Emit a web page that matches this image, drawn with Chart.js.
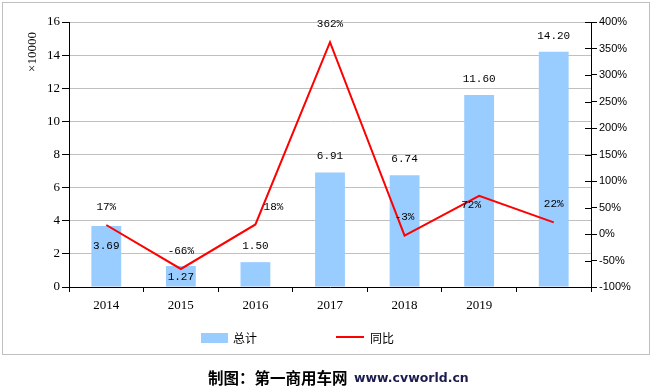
<!DOCTYPE html>
<html>
<head>
<meta charset="utf-8">
<script src="https://cdn.jsdelivr.net/npm/chart.js@4/dist/chart.umd.min.js"></script>
<style>
  html, body { margin: 0; padding: 0; background: #fff; }
  #wrap { position: relative; width: 654px; height: 388px; }
</style>
</head>
<body>
<div id="wrap"><canvas id="chart" width="654" height="388"></canvas></div>
<script>
// 数据
const years = ["2014", "2015", "2016", "2017", "2018", "2019", ""];
const totals = [3.69, 1.27, 1.50, 6.91, 6.74, 11.60, 14.20];
const yoyPct = [17, -66, 18, 362, -3, 72, 22];
const totalLabels = ["3.69", "1.27", "1.50", "6.91", "6.74", "11.60", "14.20"];
const yoyLabels = ["17%", "-66%", "18%", "362%", "-3%", "72%", "22%"];

// 标签偏移（默认在上方）
const barLabelShift = {0: [0, 20], 1: [0, 11]};
const lineLabelShift = {2: [18, -17], 5: [-8, 9]};

const monoFont = "'Liberation Mono', monospace";
const serifFont = "'Liberation Serif', serif";

const decorPlugin = {
  id: "decor",
  beforeDraw(chart) {
    const ctx = chart.ctx;
    ctx.save();
    ctx.fillStyle = "#fff";
    ctx.fillRect(0, 0, chart.width, chart.height);
    ctx.strokeStyle = "#bfbfbf";
    ctx.lineWidth = 1;
    ctx.strokeRect(2.5, 2.5, 647, 352);
    ctx.restore();
  },
  afterDraw(chart) {
    const ctx = chart.ctx;
    const area = chart.chartArea;
    ctx.save();
    // 右轴刻度（穿过轴线）
    const y1 = chart.scales.y1;
    ctx.strokeStyle = "#000";
    ctx.lineWidth = 1;
    y1.ticks.forEach((t, i) => {
      const py = Math.round(y1.getPixelForTick(i)) + 0.5;
      ctx.beginPath();
      ctx.moveTo(area.right - 6, py);
      ctx.lineTo(area.right, py);
      ctx.stroke();
    });
    // 纵轴单位
    ctx.fillStyle = "#000";
    ctx.font = "13px " + serifFont;
    ctx.textAlign = "center";
    ctx.textBaseline = "middle";
    ctx.translate(33, 52);
    ctx.rotate(-Math.PI / 2);
    ctx.fillText("×10000", 0, 0);
    ctx.restore();

    // 图例
    ctx.save();
    ctx.fillStyle = "#99ccff";
    ctx.fillRect(201, 333, 27, 10);
    ctx.strokeStyle = "#ff0000";
    ctx.lineWidth = 2;
    ctx.beginPath();
    ctx.moveTo(336, 337);
    ctx.lineTo(364, 337);
    ctx.stroke();
    ctx.fillStyle = "#000";
    ctx.font = "12px 'Noto Sans CJK SC'";
    ctx.textBaseline = "middle";
    ctx.textAlign = "left";
    ctx.fillText("总计", 233, 338);
    ctx.fillText("同比", 370, 338);

    // 来源
    ctx.font = "bold 15.5px 'Noto Sans CJK SC'";
    ctx.fillText("制图：第一商用车网", 208, 378);
    ctx.fillStyle = "#1c1c4e";
    ctx.font = "bold 12.5px 'DejaVu Sans'";
    ctx.fillText("www.cvworld.cn", 354, 379);
    ctx.restore();
  },
  afterDatasetsDraw(chart) {
    const ctx = chart.ctx;
    ctx.save();
    ctx.fillStyle = "#000";
    ctx.font = "11px " + monoFont;
    ctx.textAlign = "center";
    ctx.textBaseline = "middle";
    const barMeta = chart.getDatasetMeta(1);
    barMeta.data.forEach((el, i) => {
      const s = barLabelShift[i] || [0, -16];
      ctx.fillText(totalLabels[i], el.x + s[0], el.y + s[1]);
    });
    const lineMeta = chart.getDatasetMeta(0);
    lineMeta.data.forEach((el, i) => {
      const s = lineLabelShift[i] || [0, -18];
      ctx.fillText(yoyLabels[i], el.x + s[0], el.y + s[1]);
    });
    ctx.restore();
  }
};

new Chart(document.getElementById("chart"), {
  type: "bar",
  data: {
    labels: years,
    datasets: [
      {
        type: "line",
        label: "同比",
        data: yoyPct,
        yAxisID: "y1",
        borderColor: "#ff0000",
        borderWidth: 2,
        pointRadius: 0,
        tension: 0,
        fill: false,
        order: 0
      },
      {
        type: "bar",
        label: "总计",
        data: totals,
        yAxisID: "y",
        backgroundColor: "#99ccff",
        categoryPercentage: 1,
        barPercentage: 0.4,
        order: 1
      }
    ]
  },
  options: {
    responsive: false,
    animation: false,
    layout: { padding: { top: 22, left: 0, right: 0, bottom: 0 } },
    plugins: { legend: { display: false }, tooltip: { enabled: false } },
    scales: {
      x: {
        offset: true,
        afterFit: (s) => { s.height = 101; },
        grid: { drawOnChartArea: false, drawTicks: true, tickLength: 5, tickColor: "#000", offset: true },
        border: { color: "#000" },
        ticks: { color: "#000", font: { family: serifFont, size: 13 }, padding: 6, maxRotation: 0 }
      },
      y: {
        position: "left",
        min: 0,
        max: 16,
        afterFit: (s) => { s.width = 69; },
        ticks: { stepSize: 2, color: "#000", font: { family: serifFont, size: 13 }, padding: 2 },
        grid: { color: "#c0c0c0", tickColor: "#000", tickLength: 7 },
        border: { color: "#000" }
      },
      y1: {
        position: "right",
        min: -100,
        max: 400,
        afterFit: (s) => { s.width = 63; },
        ticks: {
          stepSize: 50,
          color: "#000",
          font: { family: "'Liberation Sans', sans-serif", size: 11 },
          padding: 2,
          callback: (v) => v + "%"
        },
        grid: { drawOnChartArea: false, tickColor: "#000", tickLength: 6 },
        border: { color: "#000" }
      }
    }
  },
  plugins: [decorPlugin]
});
</script>
</body>
</html>
